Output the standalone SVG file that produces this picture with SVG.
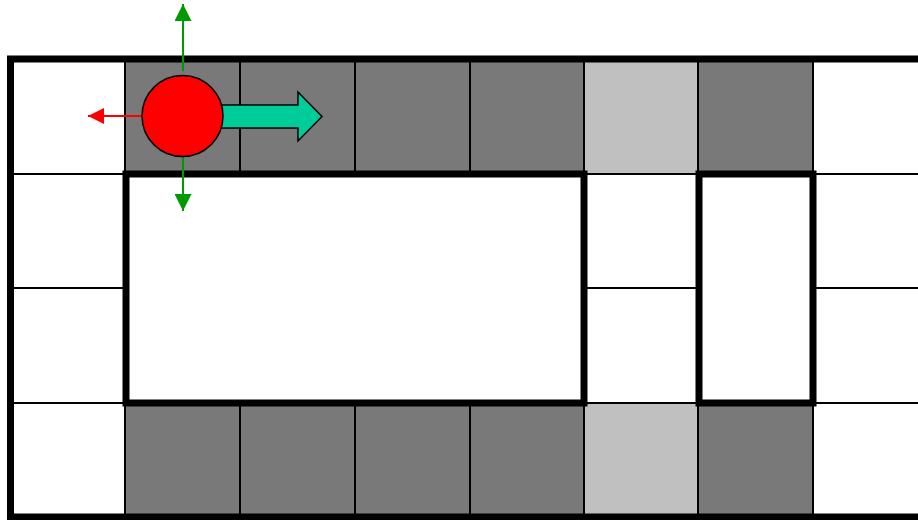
<svg xmlns="http://www.w3.org/2000/svg" width="918" height="520" viewBox="0 0 918 520">
<style>
.d{fill:#797979}
.l{fill:#c0c0c0}
.g{stroke:#000;stroke-width:2;fill:none}
.w{stroke:#000;stroke-width:7;fill:none}
</style>
<defs>
<marker id="hg" viewBox="0 0 10 10" refX="10" refY="5" markerWidth="17" markerHeight="17" markerUnits="userSpaceOnUse" orient="auto"><path d="M0,0L10,5L0,10z" fill="#009900"/></marker>
<marker id="hr" viewBox="0 0 10 10" refX="10" refY="5" markerWidth="16" markerHeight="16" markerUnits="userSpaceOnUse" orient="auto"><path d="M0,0L10,5L0,10z" fill="#ff0000"/></marker>
</defs>
<rect width="918" height="520" fill="#fff"/>
<g id="cells">
<rect class="d" x="125" y="59" width="459" height="115"/>
<rect class="l" x="584" y="59" width="114" height="115"/>
<rect class="d" x="698" y="59" width="115" height="115"/>
<rect class="d" x="125" y="403" width="459" height="114"/>
<rect class="l" x="584" y="403" width="114" height="114"/>
<rect class="d" x="698" y="403" width="115" height="114"/>
</g>
<g id="grid">
<path class="g" d="M10,174H928M10,288H928M10,403H928M125,59V517M240,59V174M355,59V174M470,59V174M240,403V517M355,403V517M470,403V517M584,59V517M698,59V517M813,59V517"/>
</g>
<g id="walls">
<rect class="w" x="126" y="174" width="458" height="229" fill="#fff" style="fill:#fff"/>
<rect class="w" x="699" y="174" width="114" height="229" style="fill:#fff"/>
<path class="w" d="M930,59H10.5V517H930"/>
</g>
<g id="connectors">
<line x1="183" y1="71" x2="183" y2="4" stroke="#009900" stroke-width="2" marker-end="url(#hg)"/>
<line x1="183" y1="156" x2="183" y2="211" stroke="#009900" stroke-width="2" marker-end="url(#hg)"/>
<line x1="142" y1="116" x2="88" y2="116" stroke="#ff0000" stroke-width="2" marker-end="url(#hr)"/>
</g>
<g id="move-arrow">
<path d="M220,105H298V92L322,116.5L298,141V128H220z" fill="#00cc99" stroke="#000" stroke-width="1.5"/>
</g>
<g id="robot">
<circle cx="182.5" cy="116" r="40.5" fill="#ff0000" stroke="#000" stroke-width="1.5"/>
</g>
</svg>
